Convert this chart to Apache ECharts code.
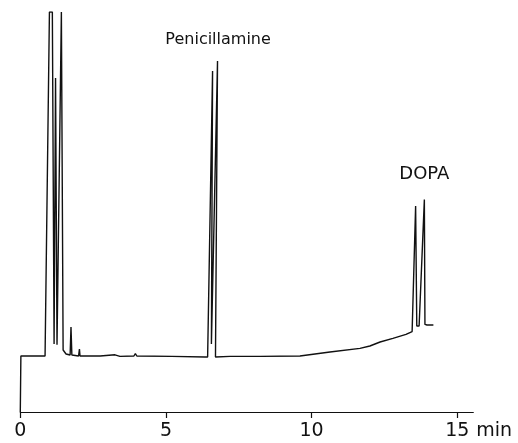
<!DOCTYPE html>
<html>
<head>
<meta charset="utf-8">
<script src="https://cdn.jsdelivr.net/npm/echarts@6/dist/echarts.min.js"></script>
<style>
  html, body { margin: 0; padding: 0; background: #fff; }
  #chart { width: 518px; height: 443px; }
</style>
</head>
<body>
<div id="chart"></div>
<script>
// retention time (min) and detector response (relative, 0-100 = full scale)
const traceTime = [
  0, 0.02, 0.85, 1.0, 1.1, 1.16, 1.21, 1.26, 1.41, 1.43, 1.47, 1.57,
  1.71, 1.74, 1.77, 2.0, 2.03, 2.05, 2.74, 3.25, 3.42, 3.9, 3.95, 4.0,
  5.2, 6.34, 6.43, 6.6, 6.56, 6.77, 6.7, 6.74, 7.2, 7.24, 7.28, 8.23,
  9.6, 10.63, 11.66, 12.0, 12.35, 12.79, 13.24, 13.45, 13.57, 13.61, 13.69,
  13.87, 13.89, 13.96, 14.18
];
const traceSignal = [
  0, 14, 14, 100, 100, 17, 83.5, 16.8, 100, 100, 15.5, 14.5,
  14.25, 21.25, 14.25, 14, 15.75, 14, 14, 14.3, 13.9, 14, 14.6, 14,
  13.9, 13.75, 13.75, 85.25, 17, 87.75, 13.75, 13.8, 13.9, 14.4, 13.9, 13.9,
  14, 15, 15.9, 16.5, 17.5, 18.4, 19.4, 20.1, 51.5, 21.5, 21.5,
  53.1, 21.9, 21.75, 21.75
];

// peak annotations
const peakNames = ["Penicillamine", "DOPA"];
const peakLabelTime = [6.79, 13.87];
const peakLabelSignal = [93.1, 59.5];
const peakLabelSize = [16, 18];

// x axis ticks
const tickValues = [0, 5, 10, 15];

const chart = echarts.init(document.getElementById("chart"), null, { renderer: "canvas" });

const traceData = traceTime.map((t, i) => [t, traceSignal[i]]);

const option = {
  backgroundColor: "#fff",
  animation: false,
  grid: { left: 20.3, right: 44.7, top: 12, bottom: 31 },
  xAxis: {
    type: "value",
    min: 0,
    max: 15.55,
    splitLine: { show: false },
    axisLine: { show: true, onZero: false, lineStyle: { color: "#111", width: 1.2 } },
    axisTick: {
      show: true,
      length: 6,
      inside: false,
      customValues: tickValues,
      lineStyle: { color: "#111", width: 1.2 }
    },
    axisLabel: {
      customValues: tickValues,
      color: "#111",
      fontFamily: "DejaVu Sans",
      fontSize: 19,
      margin: 10
    },
    name: "min",
    nameLocation: "end",
    nameGap: 3,
    nameTextStyle: {
      color: "#111",
      fontFamily: "DejaVu Sans",
      fontSize: 19,
      verticalAlign: "top",
      padding: [10, 0, 0, 0]
    }
  },
  yAxis: {
    type: "value",
    min: 0,
    max: 100,
    show: false
  },
  series: [
    {
      type: "line",
      data: traceData,
      showSymbol: false,
      symbol: "none",
      clip: true,
      lineStyle: { color: "#111", width: 1.4 },
      markPoint: {
        symbol: "circle",
        symbolSize: 0,
        data: peakNames.map((name, i) => ({
          coord: [peakLabelTime[i], peakLabelSignal[i]],
          value: name,
          label: { fontSize: peakLabelSize[i] }
        })),
        label: {
          show: true,
          position: "inside",
          formatter: (p) => p.value,
          color: "#111",
          fontFamily: "DejaVu Sans",
          fontSize: 16
        }
      }
    }
  ]
};

chart.setOption(option);
</script>
</body>
</html>
